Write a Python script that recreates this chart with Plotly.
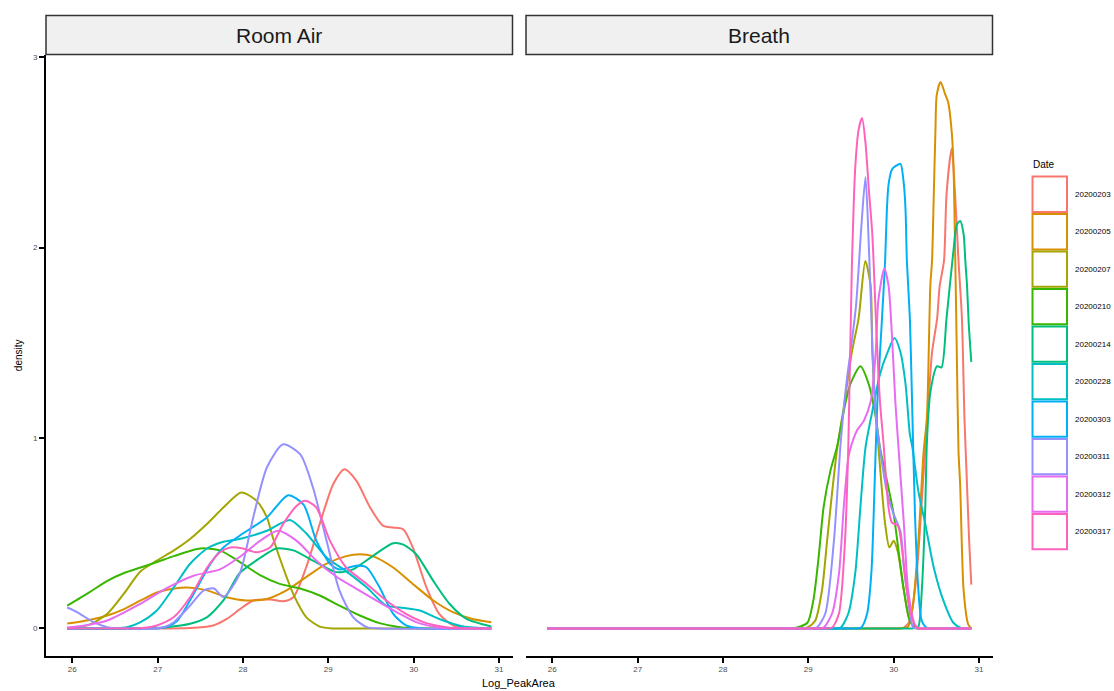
import plotly.graph_objects as go

# ---------------------------------------------------------------
# Density of Log_PeakArea per sampling date, faceted by sample type
# ---------------------------------------------------------------
dates = ["20200203", "20200205", "20200207", "20200210", "20200214",
         "20200228", "20200303", "20200311", "20200312", "20200317"]
colors = ["#F8766D", "#D89000", "#A3A500", "#39B600", "#00BF7D",
          "#00BFC4", "#00B0F6", "#9590FF", "#E76BF3", "#FF62BC"]
panels = ["Room Air", "Breath"]
x_ticks = [26, 27, 28, 29, 30, 31]
y_ticks = [0, 1, 2, 3]

# ---- Room Air densities ----
room_x_20200203 = [25.94, 27.0, 27.38, 27.65, 27.81, 27.96, 28.12, 28.32, 28.47, 28.59, 28.74, 28.90, 29.06,
                   29.19, 29.33, 29.49, 29.64, 29.76, 29.88, 29.99, 30.15, 30.30, 30.46, 30.69, 30.91]
room_y_20200203 = [0, 0, 0.002, 0.016, 0.05, 0.10, 0.147, 0.152, 0.143, 0.164, 0.32, 0.55, 0.76,
                   0.836, 0.775, 0.635, 0.54, 0.53, 0.52, 0.426, 0.216, 0.077, 0.016, 0, 0]

room_x_20200205 = [25.94, 26.2, 26.41, 26.6, 26.8, 27.0, 27.2, 27.35, 27.58, 27.81, 28.04, 28.28, 28.51,
                   28.74, 28.98, 29.21, 29.37, 29.52, 29.76, 29.99, 30.23, 30.46, 30.69, 30.91]
room_y_20200205 = [0.026, 0.045, 0.068, 0.10, 0.147, 0.19, 0.21, 0.215, 0.2, 0.164, 0.147, 0.155, 0.2,
                   0.27, 0.34, 0.38, 0.39, 0.38, 0.32, 0.234, 0.147, 0.086, 0.05, 0.033]

room_x_20200207 = [25.94, 26.2, 26.41, 26.6, 26.8, 26.99, 27.19, 27.38, 27.58, 27.77, 27.98, 28.16, 28.28,
                   28.35, 28.47, 28.59, 28.74, 28.9, 29.05, 29.3, 30.91]
room_y_20200207 = [0.0, 0.02, 0.077, 0.18, 0.30, 0.356, 0.41, 0.47, 0.55, 0.635, 0.714, 0.67, 0.583,
                   0.478, 0.32, 0.18, 0.06, 0.01, 0, 0, 0]

room_x_20200210 = [25.94, 26.2, 26.41, 26.6, 26.8, 27.0, 27.19, 27.5, 27.73, 27.96, 28.2, 28.43, 28.67,
                   28.9, 29.13, 29.37, 29.6, 29.84, 30.1, 30.91]
room_y_20200210 = [0.12, 0.19, 0.25, 0.29, 0.32, 0.35, 0.38, 0.42, 0.41, 0.35, 0.28, 0.234, 0.21,
                   0.173, 0.12, 0.068, 0.028, 0.007, 0, 0]

room_x_20200214 = [25.94, 26.8, 27.1, 27.38, 27.58, 27.77, 27.96, 28.2, 28.39, 28.59, 28.82, 29.06, 29.15,
                   29.29, 29.52, 29.76, 29.88, 30.03, 30.23, 30.42, 30.62, 30.91]
room_y_20200214 = [0, 0, 0.007, 0.025, 0.06, 0.147, 0.29, 0.37, 0.42, 0.41, 0.356, 0.30, 0.295,
                   0.31, 0.38, 0.447, 0.44, 0.39, 0.25, 0.13, 0.05, 0.01]

room_x_20200228 = [25.94, 26.5, 26.65, 26.8, 26.99, 27.19, 27.38, 27.58, 27.77, 27.96, 28.28, 28.55, 28.74,
                   28.98, 29.21, 29.45, 29.68, 29.84, 30.07, 30.3, 30.58, 30.91]
room_y_20200228 = [0, 0, 0.008, 0.033, 0.094, 0.216, 0.34, 0.42, 0.455, 0.47, 0.513, 0.57, 0.50,
                   0.373, 0.30, 0.216, 0.12, 0.11, 0.094, 0.05, 0.01, 0]

room_x_20200303 = [25.94, 26.9, 27.0, 27.12, 27.23, 27.42, 27.62, 27.77, 27.96, 28.28, 28.53, 28.71, 28.86,
                   29.02, 29.13, 29.33, 29.45, 29.6, 29.76, 29.91, 30.1, 30.91]
room_y_20200303 = [0, 0, 0, 0.01, 0.04, 0.18, 0.34, 0.425, 0.487, 0.583, 0.70, 0.65, 0.46,
                   0.34, 0.31, 0.33, 0.32, 0.216, 0.077, 0.016, 0, 0]

room_x_20200311 = [25.94, 26.06, 26.25, 26.41, 26.7, 26.95, 27.08, 27.19, 27.38, 27.54, 27.66, 27.77, 27.96,
                   28.12, 28.28, 28.47, 28.67, 28.82, 28.98, 29.13, 29.29, 29.45, 29.6, 30.91]
room_y_20200311 = [0.11, 0.085, 0.033, 0.007, 0, 0, 0.008, 0.033, 0.12, 0.2, 0.21, 0.165, 0.286,
                   0.583, 0.845, 0.967, 0.915, 0.74, 0.46, 0.2, 0.06, 0.007, 0, 0]

room_x_20200312 = [25.94, 26.2, 26.41, 26.8, 27.1, 27.42, 27.73, 27.96, 28.2, 28.41, 28.63, 28.86, 29.1,
                   29.33, 29.56, 29.8, 30.03, 30.27, 30.5, 30.91]
room_y_20200312 = [0.005, 0.02, 0.042, 0.13, 0.21, 0.277, 0.31, 0.375, 0.46, 0.513, 0.46, 0.356, 0.27,
                   0.208, 0.147, 0.086, 0.033, 0.007, 0, 0]

room_x_20200317 = [25.94, 26.7, 26.85, 26.99, 27.19, 27.38, 27.58, 27.73, 27.85, 28.0, 28.16, 28.32, 28.47,
                   28.63, 28.73, 28.86, 29.02, 29.21, 29.45, 29.68, 29.91, 30.15, 30.38, 30.6, 30.91]
room_y_20200317 = [0, 0, 0.004, 0.016, 0.06, 0.164, 0.32, 0.40, 0.425, 0.42, 0.40, 0.426, 0.548,
                   0.644, 0.67, 0.635, 0.46, 0.32, 0.234, 0.147, 0.077, 0.028, 0.007, 0, 0]

# ---- Breath densities ----
breath_x_20200203 = [25.94, 29.9, 30.05, 30.12, 30.19, 30.27, 30.35, 30.41, 30.45, 30.51, 30.54, 30.59,
                     30.62, 30.68, 30.72, 30.76, 30.80, 30.83, 30.855, 30.885, 30.91]
breath_y_20200203 = [0, 0, 0, 0.005, 0.04, 0.29, 0.81, 1.2, 1.45, 1.63, 1.80, 1.93,
                     2.28, 2.52, 2.28, 1.93, 1.63, 1.1, 0.81, 0.46, 0.23]

breath_x_20200205 = [25.94, 29.9, 30.06, 30.12, 30.17, 30.23, 30.29, 30.35, 30.39, 30.43, 30.45, 30.47,
                     30.49, 30.505, 30.55, 30.60, 30.64, 30.68, 30.70, 30.72, 30.74, 30.76, 30.78, 30.82,
                     30.875, 30.91]
breath_y_20200205 = [0, 0, 0, 0.003, 0.01, 0.14, 0.46, 0.92, 1.11, 1.80, 1.93, 2.27,
                     2.62, 2.80, 2.87, 2.81, 2.76, 2.61, 2.45, 2.0, 1.45, 0.93, 0.75, 0.2,
                     0.02, 0]

breath_x_20200207 = [25.94, 28.7, 28.9, 28.99, 29.08, 29.16, 29.22, 29.28, 29.34, 29.415, 29.51, 29.59,
                     29.668, 29.73, 29.75, 29.79, 29.84, 29.90, 29.95, 30.0, 30.05, 30.12, 30.19, 30.27,
                     30.4, 30.91]
breath_y_20200207 = [0, 0, 0, 0.005, 0.04, 0.2, 0.46, 0.72, 0.95, 1.16, 1.45, 1.63,
                     1.93, 1.80, 1.45, 1.14, 0.85, 0.55, 0.426, 0.46, 0.4, 0.2, 0.04, 0,
                     0, 0]

breath_x_20200210 = [25.94, 28.6, 28.8, 28.87, 28.99, 29.06, 29.12, 29.18, 29.26, 29.34, 29.415, 29.49,
                     29.61, 29.71, 29.79, 29.84, 29.92, 30.0, 30.12, 30.2, 30.3, 30.45, 30.91]
breath_y_20200210 = [0, 0, 0, 0.005, 0.03, 0.15, 0.37, 0.64, 0.83, 0.96, 1.14, 1.28,
                     1.377, 1.28, 1.11, 0.95, 0.78, 0.6, 0.2, 0.03, 0, 0, 0]

breath_x_20200214 = [25.94, 30.05, 30.2, 30.25, 30.29, 30.33, 30.37, 30.39, 30.43, 30.51, 30.56, 30.62,
                     30.70, 30.74, 30.78, 30.82, 30.84, 30.86, 30.88, 30.91]
breath_y_20200214 = [0, 0, 0, 0.002, 0.01, 0.2, 0.63, 0.98, 1.24, 1.377, 1.37, 1.63,
                     1.98, 2.12, 2.14, 2.07, 1.93, 1.80, 1.6, 1.40]

breath_x_20200228 = [25.94, 29.15, 29.3, 29.38, 29.47, 29.55, 29.61, 29.67, 29.75, 29.84, 29.92, 30.01,
                     30.08, 30.14, 30.19, 30.22, 30.29, 30.37, 30.47, 30.58, 30.70, 30.8, 30.91]
breath_y_20200228 = [0, 0, 0, 0.005, 0.08, 0.29, 0.635, 0.95, 1.14, 1.335, 1.44, 1.525,
                     1.45, 1.28, 1.02, 0.95, 0.72, 0.55, 0.32, 0.15, 0.03, 0, 0]

breath_x_20200303 = [25.94, 29.4, 29.55, 29.62, 29.69, 29.74, 29.78, 29.81, 29.86, 29.90, 29.92, 29.94,
                     29.98, 30.03, 30.08, 30.12, 30.14, 30.155, 30.19, 30.21, 30.25, 30.29, 30.33, 30.4,
                     30.55, 30.91]
breath_y_20200303 = [0, 0, 0, 0.005, 0.08, 0.3, 0.8, 1.2, 1.6, 1.93, 2.19, 2.33,
                     2.41, 2.43, 2.44, 2.33, 2.19, 1.93, 1.63, 1.3, 0.6, 0.2, 0.04, 0,
                     0, 0]

breath_x_20200311 = [25.94, 28.85, 29.0, 29.1, 29.2, 29.3, 29.38, 29.45, 29.5, 29.56, 29.62, 29.67,
                     29.71, 29.75, 29.79, 29.92, 30.0, 30.08, 30.12, 30.16, 30.23, 30.3, 30.5, 30.91]
breath_y_20200311 = [0, 0, 0, 0.005, 0.08, 0.46, 0.98, 1.3, 1.47, 1.7, 2.1, 2.37,
                     2.0, 1.5, 1.12, 0.72, 0.6, 0.51, 0.32, 0.18, 0.005, 0, 0, 0]

breath_x_20200312 = [25.94, 28.95, 29.1, 29.18, 29.28, 29.36, 29.415, 29.47, 29.51, 29.57, 29.65, 29.73,
                     29.79, 29.82, 29.89, 29.94, 29.98, 30.02, 30.06, 30.08, 30.12, 30.17, 30.25, 30.3,
                     30.5, 30.91]
breath_y_20200312 = [0, 0, 0, 0.005, 0.08, 0.29, 0.635, 0.90, 0.97, 1.04, 1.09, 1.19,
                     1.45, 1.72, 1.89, 1.80, 1.54, 1.19, 0.93, 0.8, 0.55, 0.2, 0.02, 0,
                     0, 0]

breath_x_20200317 = [25.94, 29.05, 29.2, 29.28, 29.36, 29.43, 29.47, 29.51, 29.55, 29.59, 29.63, 29.67,
                     29.71, 29.75, 29.80, 29.84, 29.88, 29.94, 29.98, 30.05, 30.1, 30.155, 30.21, 30.27,
                     30.35, 30.55, 30.91]
breath_y_20200317 = [0, 0, 0, 0.005, 0.08, 0.46, 0.98, 1.89, 2.42, 2.62, 2.68, 2.55,
                     2.3, 2.07, 1.54, 1.19, 0.98, 0.635, 0.556, 0.54, 0.41, 0.2, 0.06, 0.005,
                     0, 0, 0]

room_air = {
    "20200203": (room_x_20200203, room_y_20200203), "20200205": (room_x_20200205, room_y_20200205),
    "20200207": (room_x_20200207, room_y_20200207), "20200210": (room_x_20200210, room_y_20200210),
    "20200214": (room_x_20200214, room_y_20200214), "20200228": (room_x_20200228, room_y_20200228),
    "20200303": (room_x_20200303, room_y_20200303), "20200311": (room_x_20200311, room_y_20200311),
    "20200312": (room_x_20200312, room_y_20200312), "20200317": (room_x_20200317, room_y_20200317),
}
breath = {
    "20200203": (breath_x_20200203, breath_y_20200203), "20200205": (breath_x_20200205, breath_y_20200205),
    "20200207": (breath_x_20200207, breath_y_20200207), "20200210": (breath_x_20200210, breath_y_20200210),
    "20200214": (breath_x_20200214, breath_y_20200214), "20200228": (breath_x_20200228, breath_y_20200228),
    "20200303": (breath_x_20200303, breath_y_20200303), "20200311": (breath_x_20200311, breath_y_20200311),
    "20200312": (breath_x_20200312, breath_y_20200312), "20200317": (breath_x_20200317, breath_y_20200317),
}

# ---------------- page geometry (pixels) ----------------
W, H = 1114, 691
FONT = "Liberation Sans, Arial, Helvetica, sans-serif"
panel_px = [(46, 512.5), (526, 992.5)]
plot_top, plot_bottom = 52.7, 655.7
strip_top = 13.5


def fx(p):
    return p / W


def fy(p):
    return 1 - p / H


# ggplot-like 5% expansion of the data range
all_x = [v for d in (room_air, breath) for xs, _ in d.values() for v in xs]
all_y = [v for d in (room_air, breath) for _, ys in d.values() for v in ys]
x_lo, x_hi = min(all_x), max(all_x)
y_lo, y_hi = 0.0, max(all_y)
x_range = [x_lo - 0.05 * (x_hi - x_lo), x_hi + 0.05 * (x_hi - x_lo)]
y_range = [y_lo - 0.05 * (y_hi - y_lo), y_hi + 0.05 * (y_hi - y_lo)]

fig = go.Figure()
for data, xa, ya in [(room_air, "x", "y"), (breath, "x2", "y2")]:
    for date, col in zip(dates, colors):
        xs, ys = data[date]
        fig.add_trace(go.Scatter(
            x=xs, y=ys, mode="lines", name=date, legendgroup=date, showlegend=False,
            line=dict(color=col, width=2, shape="spline", smoothing=0.7),
            xaxis=xa, yaxis=ya, hoverinfo="x+y+name",
        ))

axis_common = dict(
    range=x_range, tickvals=x_ticks, ticktext=[str(t) for t in x_ticks],
    showgrid=False, zeroline=False, showline=True, linecolor="black", linewidth=2,
    ticks="outside", ticklen=5, tickwidth=2, tickcolor="black",
    tickfont=dict(family=FONT, size=8, color="#4D4D4D"),
)
y_dom = [fy(plot_bottom), fy(plot_top)]

fig.update_layout(
    width=W, height=H, margin=dict(l=0, r=0, t=0, b=0),
    paper_bgcolor="white", plot_bgcolor="white", showlegend=False,
    font=dict(family=FONT),
    xaxis=dict(domain=[fx(panel_px[0][0]), fx(panel_px[0][1])], anchor="y", **axis_common),
    xaxis2=dict(domain=[fx(panel_px[1][0]), fx(panel_px[1][1])], anchor="y2", **axis_common),
    yaxis=dict(domain=y_dom, anchor="x", range=y_range, tickvals=y_ticks,
               showgrid=False, zeroline=False, showline=True, linecolor="black", linewidth=2,
               ticks="outside", ticklen=5, tickwidth=2, tickcolor="black",
               tickfont=dict(family=FONT, size=8, color="#4D4D4D")),
    yaxis2=dict(domain=y_dom, anchor="x2", range=y_range, showgrid=False, zeroline=False,
                showline=False, showticklabels=False, ticks=""),
)

shapes, annotations = [], []

# facet strips
for (x0, x1), name in zip(panel_px, panels):
    shapes.append(dict(type="rect", xref="paper", yref="paper",
                       x0=fx(x0), x1=fx(x1), y0=fy(plot_top), y1=fy(strip_top),
                       fillcolor="#F0F0F0", line=dict(color="#333333", width=1.5), layer="above"))
    annotations.append(dict(text=name, xref="paper", yref="paper",
                            x=fx((x0 + x1) / 2), y=fy((plot_top + strip_top) / 2),
                            xanchor="center", yanchor="middle", showarrow=False,
                            font=dict(family=FONT, size=21, color="#1A1A1A")))

# axis titles
annotations.append(dict(text="density", xref="paper", yref="paper", x=fx(18),
                        y=fy((plot_top + plot_bottom) / 2), textangle=-90, showarrow=False,
                        xanchor="center", yanchor="middle",
                        font=dict(family=FONT, size=10, color="black")))
annotations.append(dict(text="Log_PeakArea", xref="paper", yref="paper",
                        x=fx((panel_px[0][0] + panel_px[1][1]) / 2), y=fy(691),
                        xanchor="center", yanchor="bottom", showarrow=False,
                        font=dict(family=FONT, size=11, color="black")))

# legend drawn as ggplot-style outlined keys
key_x0, key_x1 = 1032.5, 1067
key_top, key_step, key_h = 175, 37.6, 35.5
annotations.append(dict(text="Date", xref="paper", yref="paper", x=fx(1031), y=fy(163),
                        xanchor="left", yanchor="middle", showarrow=False,
                        font=dict(family=FONT, size=10, color="black")))
for i, (date, col) in enumerate(zip(dates, colors)):
    t = key_top + i * key_step
    shapes.append(dict(type="rect", xref="paper", yref="paper",
                       x0=fx(key_x0), x1=fx(key_x1), y0=fy(t + key_h), y1=fy(t),
                       fillcolor="white", line=dict(color=col, width=2)))
    annotations.append(dict(text=date, xref="paper", yref="paper", x=fx(1073),
                            y=fy(t + key_h / 2), xanchor="left", yanchor="middle",
                            showarrow=False, font=dict(family=FONT, size=8, color="black")))

fig.update_layout(shapes=shapes, annotations=annotations)
fig.write_html("out.html")
